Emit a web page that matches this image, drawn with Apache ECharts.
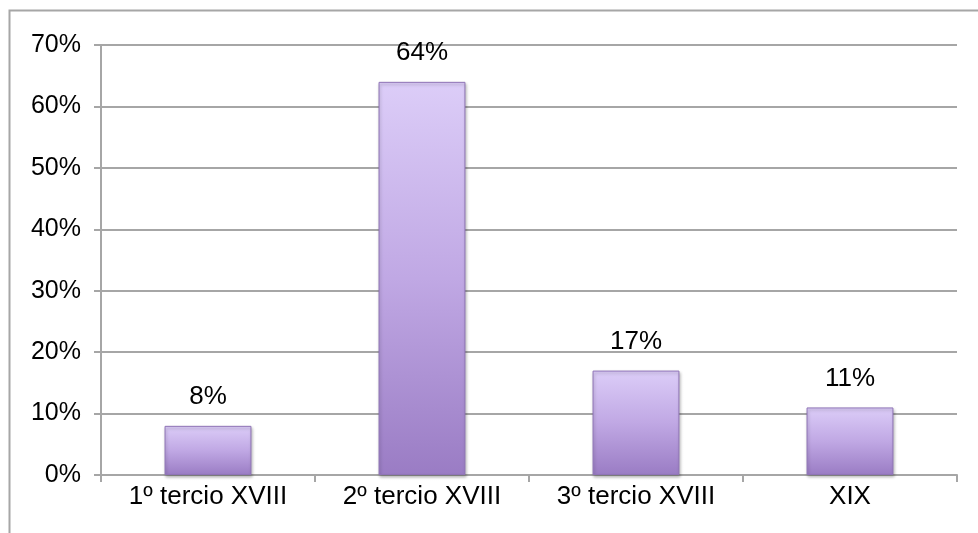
<!DOCTYPE html>
<html>
<head>
<meta charset="utf-8">
<script src="https://cdn.jsdelivr.net/npm/echarts@6/dist/echarts.min.js"></script>
<style>
  html, body { margin: 0; padding: 0; background: #ffffff; }
  #chart { width: 978px; height: 533px; }
</style>
</head>
<body>
<div id="chart"></div>
<script>
// Periods and the share of items in each one
const categories = ['1º tercio XVIII', '2º tercio XVIII', '3º tercio XVIII', 'XIX'];
const shares = [8, 64, 17, 11];
const yTicks = { min: 0, max: 70, interval: 10 };

const chart = echarts.init(document.getElementById('chart'), null, { renderer: 'canvas' });
const font = '"Liberation Sans", Arial, Helvetica, sans-serif';

chart.setOption({
  animation: false,
  backgroundColor: '#ffffff',
  graphic: [{
    type: 'rect',
    shape: { x: 9.5, y: 10.5, width: 1000, height: 600 },
    style: { fill: 'none', stroke: '#a6a6a6', lineWidth: 2 },
    silent: true
  }],
  grid: { left: 101, right: 21, top: 45, bottom: 58, containLabel: false },
  xAxis: {
    type: 'category',
    data: categories,
    axisLine: { lineStyle: { color: '#a6a6a6', width: 2 } },
    axisTick: { show: true, length: 7, alignWithLabel: false, lineStyle: { color: '#a6a6a6', width: 2 } },
    axisLabel: { color: '#000', fontFamily: font, fontSize: 26, margin: 9 }
  },
  yAxis: {
    type: 'value',
    min: yTicks.min,
    max: yTicks.max,
    interval: yTicks.interval,
    axisLine: { show: true, lineStyle: { color: '#a6a6a6', width: 2 } },
    axisTick: { show: true, length: 7, lineStyle: { color: '#a6a6a6', width: 2 } },
    splitLine: { show: true, lineStyle: { color: '#a6a6a6', width: 2 } },
    axisLabel: { color: '#000', fontFamily: font, fontSize: 25, margin: 20, padding: [4, 0, 0, 0], formatter: v => v + '%' }
  },
  series: [{
    type: 'bar',
    data: shares,
    barWidth: '40.6%',
    itemStyle: {
      color: {
        type: 'linear', x: 0, y: 0, x2: 0, y2: 1,
        colorStops: [
          { offset: 0, color: '#dccdf8' },
          { offset: 0.5, color: '#c0a8e4' },
          { offset: 1, color: '#9a7cc4' }
        ]
      },
      borderColor: '#8f74b6',
      borderWidth: 1,
      shadowColor: 'rgba(0,0,0,0.25)',
      shadowBlur: 3,
      shadowOffsetX: 1,
      shadowOffsetY: 2
    },
    label: {
      show: true,
      position: 'top',
      distance: 16,
      color: '#000',
      fontFamily: font,
      fontSize: 26,
      formatter: p => p.value + '%'
    }
  }]
});
</script>
</body>
</html>
